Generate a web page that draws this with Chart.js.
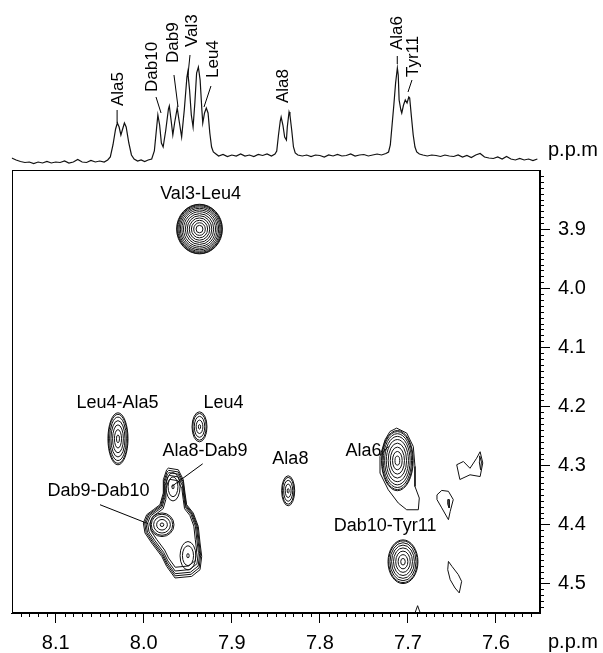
<!DOCTYPE html>
<html>
<head>
<meta charset="utf-8">
<script src="https://cdn.jsdelivr.net/npm/chart.js@4.4.1/dist/chart.umd.min.js"></script>
<style>
html, body { margin: 0; padding: 0; background: #fff; }
#wrap { position: relative; width: 603px; height: 653px; }
canvas { position: absolute; left: 0; top: 0; }
</style>
</head>
<body>
<div id="wrap">
    <canvas id="map" width="603" height="653"></canvas>
    <canvas id="spec" width="603" height="170"></canvas>
</div>
<script>
// 1D projection (ppm, intensity)
const specPpm = [
    8.150, 8.145, 8.140, 8.135, 8.130, 8.125, 8.120, 8.115, 8.110, 8.105, 8.100, 8.095, 8.090, 8.085, 8.080, 8.075, 8.070, 8.065, 8.060, 8.055, 8.050, 8.045, 8.041,
    8.038, 8.035, 8.032, 8.030, 8.028, 8.026, 8.024, 8.022, 8.020, 8.017, 8.014, 8.011, 8.007,
    8.003, 7.999, 7.995, 7.991,
    7.988, 7.986, 7.984, 7.982, 7.980, 7.978, 7.975, 7.972, 7.971, 7.969, 7.967, 7.965, 7.962, 7.960, 7.957, 7.954, 7.951, 7.950, 7.948, 7.946, 7.944, 7.942, 7.940, 7.938, 7.936, 7.934, 7.933, 7.931, 7.929, 7.927, 7.925, 7.923, 7.921, 7.918,
    7.915, 7.910, 7.905, 7.900, 7.895, 7.890, 7.885, 7.880, 7.875, 7.870, 7.865, 7.860, 7.855, 7.851,
    7.849, 7.847, 7.845, 7.844, 7.842, 7.840, 7.838, 7.837, 7.835, 7.834, 7.832, 7.830, 7.828, 7.825,
    7.820, 7.815, 7.810, 7.805, 7.800, 7.795, 7.790, 7.785, 7.780, 7.775, 7.770, 7.765, 7.760, 7.755, 7.750, 7.745, 7.740, 7.735, 7.730, 7.725, 7.722,
    7.720, 7.718, 7.716, 7.714, 7.712, 7.711, 7.710, 7.708, 7.707, 7.705, 7.703, 7.701, 7.699, 7.698, 7.696, 7.694, 7.692, 7.690, 7.687,
    7.683, 7.678, 7.673, 7.668, 7.663, 7.658, 7.653, 7.648, 7.643, 7.638, 7.633, 7.628, 7.623, 7.618, 7.613, 7.608, 7.603, 7.598, 7.593, 7.588, 7.583, 7.578, 7.573, 7.568, 7.563, 7.558, 7.553
];
const specInt = [
    7, 5, 3.5, 2.5, 3, 1.5, 3, 2, 3.5, 2, 3, 2.5, 4, 2, 3, 5.5, 3, 2.5, 4.5, 3, 4, 3, 5,
    8, 20, 36, 42, 38, 30, 36, 42, 38, 22, 10, 6, 4,
    5, 3.5, 5, 6,
    14, 32, 50, 40, 22, 18, 35, 56, 59, 45, 30, 42, 57, 45, 28, 55, 88, 93, 75, 50, 38, 62, 92, 98, 85, 55, 42, 52, 57, 52, 32, 18, 13, 11,
    9, 10.5, 8.5, 10, 9, 11, 9, 10, 8.5, 10.5, 9.5, 11, 9, 11,
    14, 30, 44, 48, 40, 28, 25, 38, 53, 50, 35, 18, 12, 10,
    9, 10, 8.5, 10, 9.5, 8, 10, 9, 10.5, 9, 9.5, 11, 9, 10, 10.5, 9, 10, 11, 10, 11.5, 13,
    20, 40, 60, 82, 97, 90, 65, 55, 52, 60, 65, 62, 68, 67, 48, 30, 18, 13, 11,
    10, 9, 10, 9.5, 8.5, 10, 9, 8.5, 10, 8, 9.5, 7.5, 10, 11.5, 8, 7, 6.5, 8, 6, 8.5, 6, 5, 6.5, 5, 6, 4.5, 6
];

// assignments on the 1D trace
const peakNames = ['Ala5', 'Dab10', 'Dab9', 'Val3', 'Leu4', 'Ala8', 'Ala6', 'Tyr11'];
const peakTextPpm = [8.029, 7.9907, 7.9668, 7.9452, 7.9214, 7.8419, 7.7121, 7.6939];
const peakTextInt = [59, 73, 102, 118, 87, 62, 115, 88];
const peakLeadFrom = [[8.0303, 55], [7.9861, 68], [7.9657, 90], [7.9475, 110], [7.9237, 79], null, [7.7121, 109], [7.6999, 73]];
const peakLeadTo = [[8.0303, 42], [7.9804, 52], [7.9611, 58], [7.9498, 90], [7.9316, 58], null, [7.7121, 101], [7.6954, 85]];

// axis ticks
const xTickVals = [8.1, 8.0, 7.9, 7.8, 7.7, 7.6];
const yTickVals = [3.9, 4.0, 4.1, 4.2, 4.3, 4.4, 4.5];

// 2D cross peaks: centre, half widths (ppm), contour levels
const ringX = [7.9367, 8.0293, 7.9367, 7.836, 7.712, 7.7056, 7.9793, 7.9668, 7.9498];
const ringY = [3.900, 4.2551, 4.2348, 4.3431, 4.292, 4.4632, 4.4006, 4.3363, 4.453];
const ringRx = [0.026, 0.0114, 0.0085, 0.0074, 0.018, 0.017, 0.0136, 0.008, 0.009];
const ringRy = [0.042, 0.044, 0.0254, 0.0254, 0.051, 0.037, 0.02, 0.024, 0.024];
const ringLevels = [13, 7, 5, 5, 9, 8, 5, 3, 3];

// outer contour of the Dab9/Dab10 cluster
const blobX = [7.9721, 7.9608, 7.9551, 7.9532, 7.9513, 7.9438, 7.9381, 7.9361, 7.9342, 7.9361, 7.9456, 7.9645, 7.974, 7.9796, 7.991, 7.9986, 8.0005, 7.9967, 7.9892, 7.9816, 7.9778, 7.9778, 7.974];
const blobY = [4.3047, 4.3075, 4.3244, 4.3469, 4.3667, 4.3808, 4.4035, 4.4315, 4.4542, 4.4767, 4.488, 4.4907, 4.4711, 4.4542, 4.4315, 4.4146, 4.3977, 4.3836, 4.3752, 4.3667, 4.3469, 4.3244, 4.3075];
const blobLevels = [1, 0.96, 0.92, 0.87, 0.8];

// lowest contour of Ala6 with its tail
const ala6X = [7.7128, 7.7014, 7.6939, 7.692, 7.692, 7.6871, 7.6882, 7.7014, 7.7109, 7.7223, 7.7317, 7.7317, 7.726, 7.7204];
const ala6Y = [4.237, 4.2454, 4.2681, 4.3019, 4.3358, 4.3554, 4.3752, 4.3752, 4.3639, 4.3414, 4.3131, 4.285, 4.2568, 4.2427];

// small noise contours
const noise1X = [7.6446, 7.637, 7.6295, 7.622, 7.618, 7.615, 7.618, 7.6295, 7.641];
const noise1Y = [4.299, 4.2935, 4.305, 4.288, 4.277, 4.296, 4.319, 4.316, 4.324];
const noise1bX = [7.6185, 7.6165, 7.6175, 7.619];
const noise1bY = [4.284, 4.294, 4.3075, 4.294];
const noise2X = [7.667, 7.6616, 7.654, 7.6485, 7.652, 7.654, 7.6616, 7.667];
const noise2Y = [4.350, 4.3425, 4.344, 4.358, 4.378, 4.392, 4.372, 4.358];
const noise2bX = [7.6548, 7.6532, 7.6532, 7.6548];
const noise2bY = [4.358, 4.358, 4.372, 4.366];
const noise3X = [7.654, 7.650, 7.6428, 7.639, 7.6417, 7.6465, 7.652, 7.6548];
const noise3Y = [4.4627, 4.471, 4.485, 4.4965, 4.516, 4.5077, 4.4936, 4.4767];
const noise4X = [7.692, 7.689, 7.686];
const noise4Y = [4.55, 4.5376, 4.55];

// cross peak labels
const crossNames = ['Val3-Leu4', 'Leu4-Ala5', 'Leu4', 'Ala8-Dab9', 'Dab9-Dab10', 'Ala8', 'Ala6', 'Dab10-Tyr11'];
const crossTextX = [7.9355, 8.0298, 7.9095, 7.9305, 8.0514, 7.8335, 7.7505, 7.726];
const crossTextY = [3.8406, 4.1942, 4.1942, 4.2754, 4.3431, 4.2885, 4.2766, 4.4035];
const crossLeadFrom = [null, null, null, [7.9331, 4.2974], [8.0497, 4.3667], null, [7.7306, 4.2822], null];
const crossLeadTo = [null, null, null, [7.9683, 4.3358], [7.9949, 4.3989], null, [7.7223, 4.2681], null];

const FONT = "'Liberation Sans', Arial, Helvetica, sans-serif";
Chart.defaults.font.family = FONT;
Chart.defaults.color = '#000';

const polygons = [
    { x: blobX, y: blobY, closed: true },
    { x: ala6X, y: ala6Y, closed: true },
    { x: noise1X, y: noise1Y, closed: true },
    { x: noise1bX, y: noise1bY, closed: true },
    { x: noise2X, y: noise2Y, closed: true },
    { x: noise2bX, y: noise2bY, closed: true },
    { x: noise3X, y: noise3Y, closed: true },
    { x: noise4X, y: noise4Y, closed: false }
];

function polyData(p) {
    const pts = p.x.map((v, i) => ({ x: v, y: p.y[i] }));
    if (p.closed) pts.push({ x: p.x[0], y: p.y[0] });
    return pts;
}

const contourPlugin = {
    id: 'contours',
    afterDatasetsDraw(chart) {
        const { ctx, chartArea } = chart;
        const xs = chart.scales.x, ys = chart.scales.y;
        ctx.save();
        ctx.beginPath();
        ctx.rect(chartArea.left, chartArea.top, chartArea.right - chartArea.left, chartArea.bottom - chartArea.top);
        ctx.clip();
        ctx.strokeStyle = '#111';
        ctx.lineWidth = 1;

        // nested rings, denser toward the outside
        ringX.forEach((cx, i) => {
            const px = xs.getPixelForValue(cx);
            const py = ys.getPixelForValue(ringY[i]);
            const rx = Math.abs(xs.getPixelForValue(cx + ringRx[i]) - px);
            const ry = Math.abs(ys.getPixelForValue(ringY[i] + ringRy[i]) - py);
            const n = ringLevels[i];
            for (let k = 0; k < n; k++) {
                const f = n > 1 ? 1 - 0.85 * Math.pow(k / (n - 1), 1.5) : 1;
                ctx.beginPath();
                ctx.ellipse(px, py, rx * f, ry * f, 0, 0, Math.PI * 2);
                ctx.stroke();
            }
        });

        // inner levels of the cluster outline
        const bcx = 7.9633, bcy = 4.40;
        blobLevels.slice(1).forEach(f => {
            ctx.beginPath();
            blobX.forEach((v, i) => {
                const qx = xs.getPixelForValue(bcx + f * (v - bcx));
                const qy = ys.getPixelForValue(bcy + f * (blobY[i] - bcy));
                if (i === 0) ctx.moveTo(qx, qy); else ctx.lineTo(qx, qy);
            });
            ctx.closePath();
            ctx.stroke();
        });
        ctx.restore();
    },
    afterDraw(chart) {
        const { ctx, chartArea } = chart;
        const xs = chart.scales.x, ys = chart.scales.y;
        ctx.save();
        ctx.strokeStyle = '#000';
        ctx.lineWidth = 1;
        // frame
        ctx.strokeRect(Math.round(chartArea.left) + 0.5, Math.round(chartArea.top) + 0.5,
            Math.round(chartArea.right - chartArea.left) - 1, Math.round(chartArea.bottom - chartArea.top) - 1);

        // minor ticks every 0.01 ppm
        ctx.beginPath();
        for (let i = 756; i <= 814; i++) {
            if (i % 10 === 0) continue;
            const px = Math.round(xs.getPixelForValue(i / 100)) + 0.5;
            ctx.moveTo(px, chartArea.bottom);
            ctx.lineTo(px, chartArea.bottom + 4);
        }
        for (let i = 381; i <= 454; i++) {
            if (i % 10 === 0) continue;
            const py = Math.round(ys.getPixelForValue(i / 100)) + 0.5;
            ctx.moveTo(chartArea.right, py);
            ctx.lineTo(chartArea.right + 4, py);
        }
        ctx.stroke();

        // labels and leaders
        ctx.fillStyle = '#000';
        ctx.font = '18px ' + FONT;
        ctx.textAlign = 'center';
        ctx.textBaseline = 'middle';
        crossNames.forEach((name, i) => {
            ctx.fillText(name, xs.getPixelForValue(crossTextX[i]), ys.getPixelForValue(crossTextY[i]));
            if (crossLeadFrom[i]) {
                ctx.beginPath();
                ctx.moveTo(xs.getPixelForValue(crossLeadFrom[i][0]), ys.getPixelForValue(crossLeadFrom[i][1]));
                ctx.lineTo(xs.getPixelForValue(crossLeadTo[i][0]), ys.getPixelForValue(crossLeadTo[i][1]));
                ctx.stroke();
            }
        });

        // unit labels
        ctx.font = '20px ' + FONT;
        ctx.textAlign = 'left';
        ctx.fillText('p.p.m', 548, 642);
        ctx.fillText('p.p.m', 548, 150);
        ctx.restore();
    }
};

new Chart(document.getElementById('map'), {
    type: 'scatter',
    data: {
        datasets: polygons.map(p => ({
            data: polyData(p),
            showLine: true,
            pointRadius: 0,
            borderColor: '#111',
            borderWidth: 1,
            fill: false
        }))
    },
    options: {
        responsive: false,
        animation: false,
        layout: { padding: { left: 11.7, top: 170, right: 0, bottom: 0 } },
        plugins: { legend: { display: false }, tooltip: { enabled: false } },
        scales: {
            x: {
                type: 'linear',
                reverse: true,
                min: 7.55,
                max: 8.15,
                position: 'bottom',
                afterBuildTicks: s => { s.ticks = xTickVals.map(v => ({ value: v })); },
                afterFit: s => { s.height = 40; },
                ticks: {
                    font: { size: 20 },
                    color: '#000',
                    padding: 8,
                    maxRotation: 0,
                    autoSkip: false,
                    callback: v => v.toFixed(1)
                },
                grid: { drawOnChartArea: false, tickLength: 10, color: '#000' },
                border: { color: '#000' }
            },
            y: {
                type: 'linear',
                reverse: true,
                min: 3.8,
                max: 4.55,
                position: 'right',
                afterBuildTicks: s => { s.ticks = yTickVals.map(v => ({ value: v })); },
                afterFit: s => { s.width = 63; },
                ticks: {
                    font: { size: 20 },
                    color: '#000',
                    padding: 8,
                    autoSkip: false,
                    callback: v => v.toFixed(1)
                },
                grid: { drawOnChartArea: false, tickLength: 10, color: '#000' },
                border: { color: '#000' }
            }
        }
    },
    plugins: [contourPlugin]
});

const specLabels = {
    id: 'specLabels',
    afterDraw(chart) {
        const { ctx } = chart;
        const xs = chart.scales.x, ys = chart.scales.y;
        ctx.save();
        ctx.fillStyle = '#000';
        ctx.strokeStyle = '#000';
        ctx.lineWidth = 1;
        ctx.font = '17px ' + FONT;
        ctx.textAlign = 'left';
        ctx.textBaseline = 'middle';
        peakNames.forEach((name, i) => {
            ctx.save();
            ctx.translate(xs.getPixelForValue(peakTextPpm[i]), ys.getPixelForValue(peakTextInt[i]));
            ctx.rotate(-Math.PI / 2);
            ctx.fillText(name, 0, 0);
            ctx.restore();
            if (peakLeadFrom[i]) {
                ctx.beginPath();
                ctx.moveTo(xs.getPixelForValue(peakLeadFrom[i][0]), ys.getPixelForValue(peakLeadFrom[i][1]));
                ctx.lineTo(xs.getPixelForValue(peakLeadTo[i][0]), ys.getPixelForValue(peakLeadTo[i][1]));
                ctx.stroke();
            }
        });
        ctx.restore();
    }
};

new Chart(document.getElementById('spec'), {
    type: 'scatter',
    data: {
        datasets: [{
            data: specPpm.map((v, i) => ({ x: v, y: specInt[i] })),
            showLine: true,
            pointRadius: 0,
            borderColor: '#111',
            borderWidth: 1.2,
            fill: false
        }]
    },
    options: {
        responsive: false,
        animation: false,
        layout: { padding: { left: 11.7, right: 63, top: 0, bottom: 5 } },
        plugins: { legend: { display: false }, tooltip: { enabled: false } },
        scales: {
            x: { type: 'linear', display: false, reverse: true, min: 7.55, max: 8.15 },
            y: { type: 'linear', display: false, min: 0, max: 165 }
        }
    },
    plugins: [specLabels]
});
</script>
</body>
</html>
